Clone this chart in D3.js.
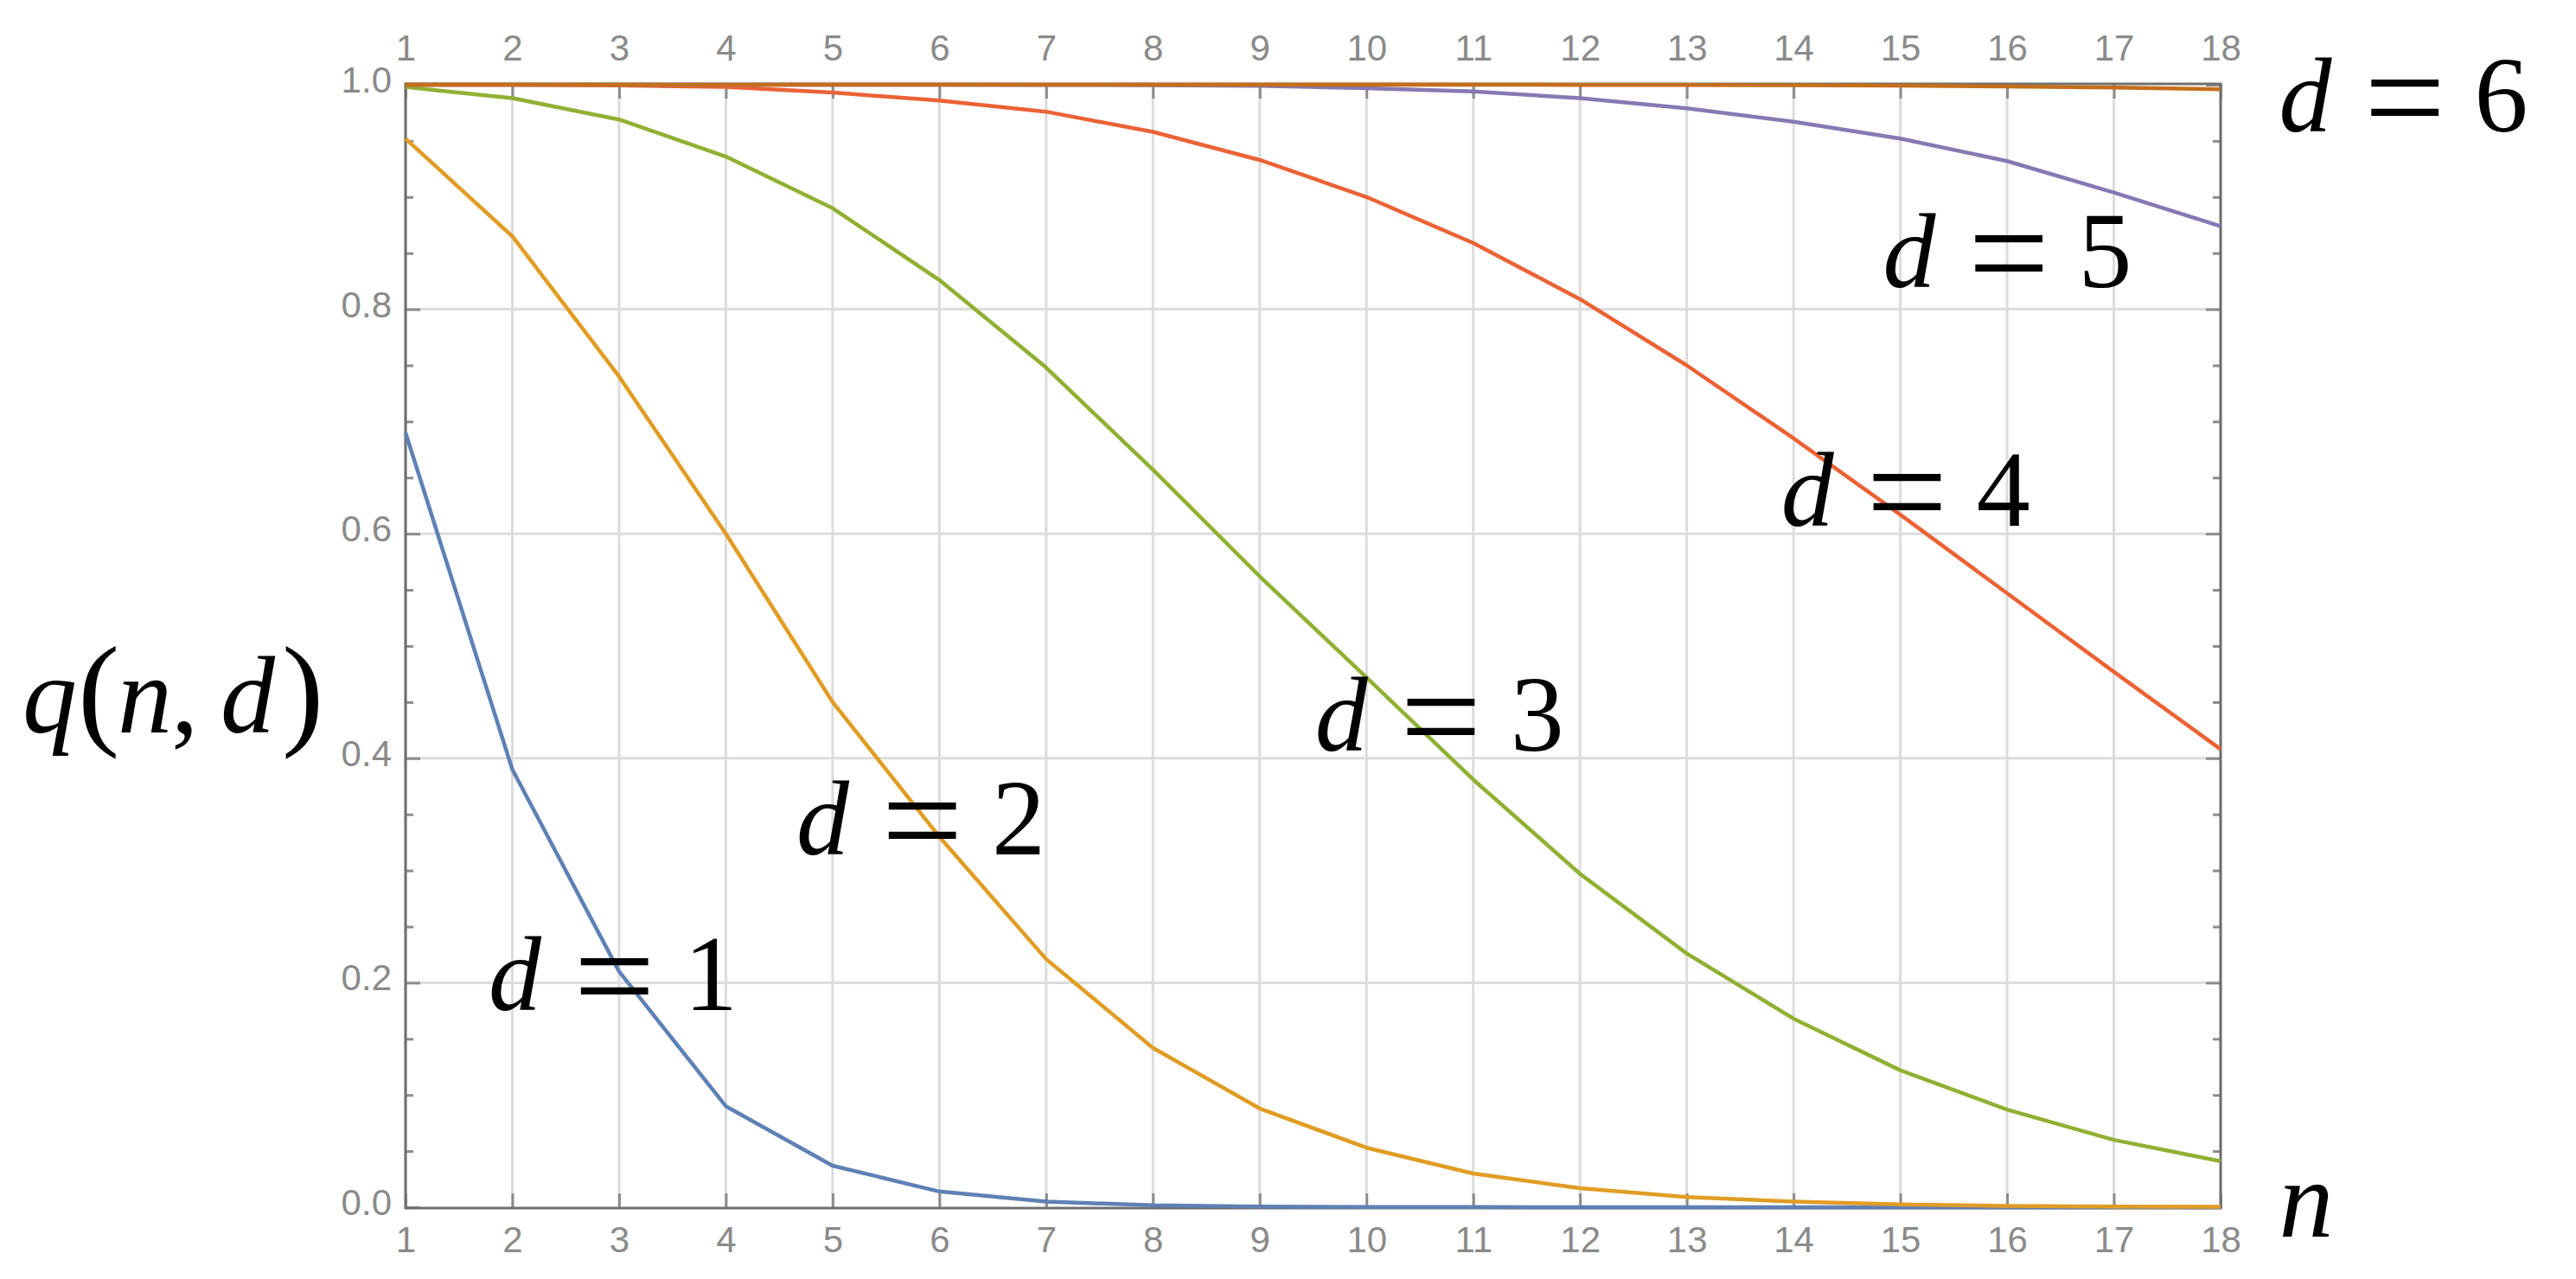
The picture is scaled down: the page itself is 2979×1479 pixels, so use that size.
<!DOCTYPE html>
<html><head><meta charset="utf-8">
<script src="https://cdn.jsdelivr.net/npm/d3@7"></script>
<style>html,body{margin:0;padding:0;background:#fff;overflow:hidden}</style>
</head><body>
<svg id="chart" width="2979" height="1479" xmlns="http://www.w3.org/2000/svg"></svg>
<script>
// ---------------- data ----------------
const nValues = [1, 2, 3, 4, 5, 6, 7, 8, 9, 10, 11, 12, 13, 14, 15, 16, 17, 18];
const xTickLabels = ["1","2","3","4","5","6","7","8","9","10","11","12","13","14","15","16","17","18"];
const yTicks = [0, 0.2, 0.4, 0.6, 0.8, 1.0];
const yTickLabels = ["0.0", "0.2", "0.4", "0.6", "0.8", "1.0"];
const yMinorTicks = [0.05, 0.1, 0.15, 0.25, 0.3, 0.35, 0.45, 0.5, 0.55, 0.65, 0.7, 0.75, 0.85, 0.9, 0.95];

const q1 = [0.69, 0.39, 0.21, 0.09, 0.037, 0.014, 0.005, 0.0017, 0.0006, 0.0002, 0.0001, 0, 0, 0, 0, 0, 0, 0];
const q2 = [0.952, 0.865, 0.74, 0.6, 0.45, 0.33, 0.221, 0.142, 0.088, 0.053, 0.03, 0.017, 0.009, 0.005, 0.0025, 0.0012, 0.0006, 0.0003];
const q3 = [0.998, 0.988, 0.969, 0.936, 0.89, 0.826, 0.748, 0.657, 0.562, 0.472, 0.381, 0.297, 0.226, 0.168, 0.122, 0.087, 0.06, 0.041];
const q4 = [1.0, 1.0, 0.9995, 0.998, 0.993, 0.986, 0.976, 0.958, 0.933, 0.9, 0.859, 0.809, 0.75, 0.685, 0.617, 0.547, 0.477, 0.408];
const q5 = [1.0, 1.0, 1.0, 1.0, 1.0, 1.0, 0.9999, 0.9997, 0.999, 0.997, 0.994, 0.988, 0.979, 0.967, 0.952, 0.932, 0.904, 0.874];
const q6 = [1.0, 1.0, 1.0, 1.0, 1.0, 1.0, 1.0, 1.0, 1.0, 1.0, 1.0, 0.9999, 0.9998, 0.9996, 0.9992, 0.9985, 0.9975, 0.996];

const seriesNames = ["1", "2", "3", "4", "5", "6"];
const seriesValues = [q1, q2, q3, q4, q5, q6];
const seriesColors = ["#5E81B5", "#E19C24", "#8FB032", "#EB6235", "#8778B3", "#C56E1A"];

// label anchors in data units (n, q) : left edge of "d", baseline
const labelN = [1.794, 4.676, 9.534, 13.899, 14.854, 18.563];
const labelQ = [0.176, 0.3146, 0.4069, 0.6069, 0.82, 0.9585];

// ---------------- layout ----------------
const W = 2979, H = 1479;
const L = 469, R = 2568, T = 98, B = 1396;
const svg = d3.select("#chart");
svg.append("rect").attr("width", W).attr("height", H).attr("fill", "#fff");

const x = d3.scaleLinear().domain([1, 18]).range([L, R]);
const y = d3.scaleLinear().domain([0, 1]).range([B, T]);

const gridColor = "#dcdcdc", tickColor = "#8c8c8c", frameColor = "#6f6f6f", labelColor = "#8a8a8a";
const tickFont = "'Liberation Sans', Arial, sans-serif";
const mathFont = "'Liberation Serif', 'Times New Roman', serif";

// grid
const grid = svg.append("g");
grid.selectAll("line.gx").data(nValues).join("line")
  .attr("x1", d => x(d)).attr("x2", d => x(d)).attr("y1", T).attr("y2", B)
  .attr("stroke", gridColor).attr("stroke-width", 3);
grid.selectAll("line.gy").data(yTicks.filter(v => v > 0 && v < 1)).join("line")
  .attr("x1", L).attr("x2", R).attr("y1", d => y(d)).attr("y2", d => y(d))
  .attr("stroke", gridColor).attr("stroke-width", 3);

// axes (ticks + labels)
function styleAxis(g) {
  g.select(".domain").remove();
  g.selectAll(".tick line").attr("stroke", tickColor).attr("stroke-width", 3);
  g.selectAll(".tick text").attr("fill", labelColor).attr("font-family", tickFont).attr("font-size", 42);
}
svg.append("g").attr("transform", `translate(0,${B + 1})`)
  .call(d3.axisBottom(x).tickValues(nValues).tickFormat((d, i) => xTickLabels[i]).tickSize(-17).tickSizeOuter(0).tickPadding(21))
  .call(styleAxis);
svg.append("g").attr("transform", `translate(0,${T - 1})`)
  .call(d3.axisTop(x).tickValues(nValues).tickFormat((d, i) => xTickLabels[i]).tickSize(-17).tickSizeOuter(0).tickPadding(27))
  .call(styleAxis);
svg.append("g").attr("transform", `translate(${L},0)`)
  .call(d3.axisLeft(y).tickValues(yTicks).tickFormat((d, i) => yTickLabels[i]).tickSize(-17).tickSizeOuter(0).tickPadding(16))
  .call(styleAxis)
  .call(g => g.selectAll(".tick text").attr("dy", "0.2em"));
svg.append("g").attr("transform", `translate(${L},0)`)
  .call(d3.axisLeft(y).tickValues(yMinorTicks).tickFormat("").tickSize(-9).tickSizeOuter(0))
  .call(styleAxis);
svg.append("g").attr("transform", `translate(${R},0)`)
  .call(d3.axisRight(y).tickValues(yTicks).tickFormat("").tickSize(-17).tickSizeOuter(0))
  .call(styleAxis);
svg.append("g").attr("transform", `translate(${R},0)`)
  .call(d3.axisRight(y).tickValues(yMinorTicks).tickFormat("").tickSize(-9).tickSizeOuter(0))
  .call(styleAxis);

// frame
svg.append("rect").attr("x", L).attr("y", T - 1).attr("width", R - L).attr("height", B - T + 2)
  .attr("fill", "none").attr("stroke", frameColor).attr("stroke-width", 3);

// lines
const line = d3.line().x((d, i) => x(nValues[i])).y(d => y(d));
svg.append("g").selectAll("path").data(seriesValues).join("path")
  .attr("d", d => line(d))
  .attr("fill", "none")
  .attr("stroke", (d, i) => seriesColors[i])
  .attr("stroke-width", 4.5)
  .attr("stroke-linejoin", "round")
  .attr("stroke-linecap", "butt");

// series labels  "d = k"
const lab = svg.append("g").attr("fill", "#000").attr("font-family", mathFont);
seriesNames.forEach((name, i) => {
  const px = x(labelN[i]), py = y(labelQ[i]);
  const t = lab.append("text");
  t.append("tspan").attr("x", px - 2).attr("y", py).attr("font-style", "italic").attr("font-size", 122).text("d ");
  t.append("tspan").attr("x", px + 96.5).attr("y", py + 17).attr("font-size", 167).text("= ");
  t.append("tspan").attr("x", px + 224).attr("y", py).attr("font-size", 124).text(name);
});

// axis labels
const xl = svg.append("text").attr("font-family", mathFont).attr("fill", "#000");
xl.append("tspan").attr("x", x(18.563) - 2).attr("y", B + 34).attr("font-style", "italic").attr("font-size", 126).text("n");

const yl = svg.append("text").attr("font-family", mathFont).attr("fill", "#000");
const yb = 847;
yl.append("tspan").attr("x", 26).attr("y", yb).attr("font-style", "italic").attr("font-size", 126).text("q");
yl.append("tspan").attr("x", 90).attr("y", yb).attr("font-size", 145).text("(");
yl.append("tspan").attr("x", 136).attr("y", yb).attr("font-style", "italic").attr("font-size", 126).text("n");
yl.append("tspan").attr("x", 198).attr("y", yb).attr("font-size", 126).text(",");
yl.append("tspan").attr("x", 255).attr("y", yb).attr("font-style", "italic").attr("font-size", 126).text("d");
yl.append("tspan").attr("x", 326).attr("y", yb).attr("font-size", 145).text(")");
</script>
</body></html>
